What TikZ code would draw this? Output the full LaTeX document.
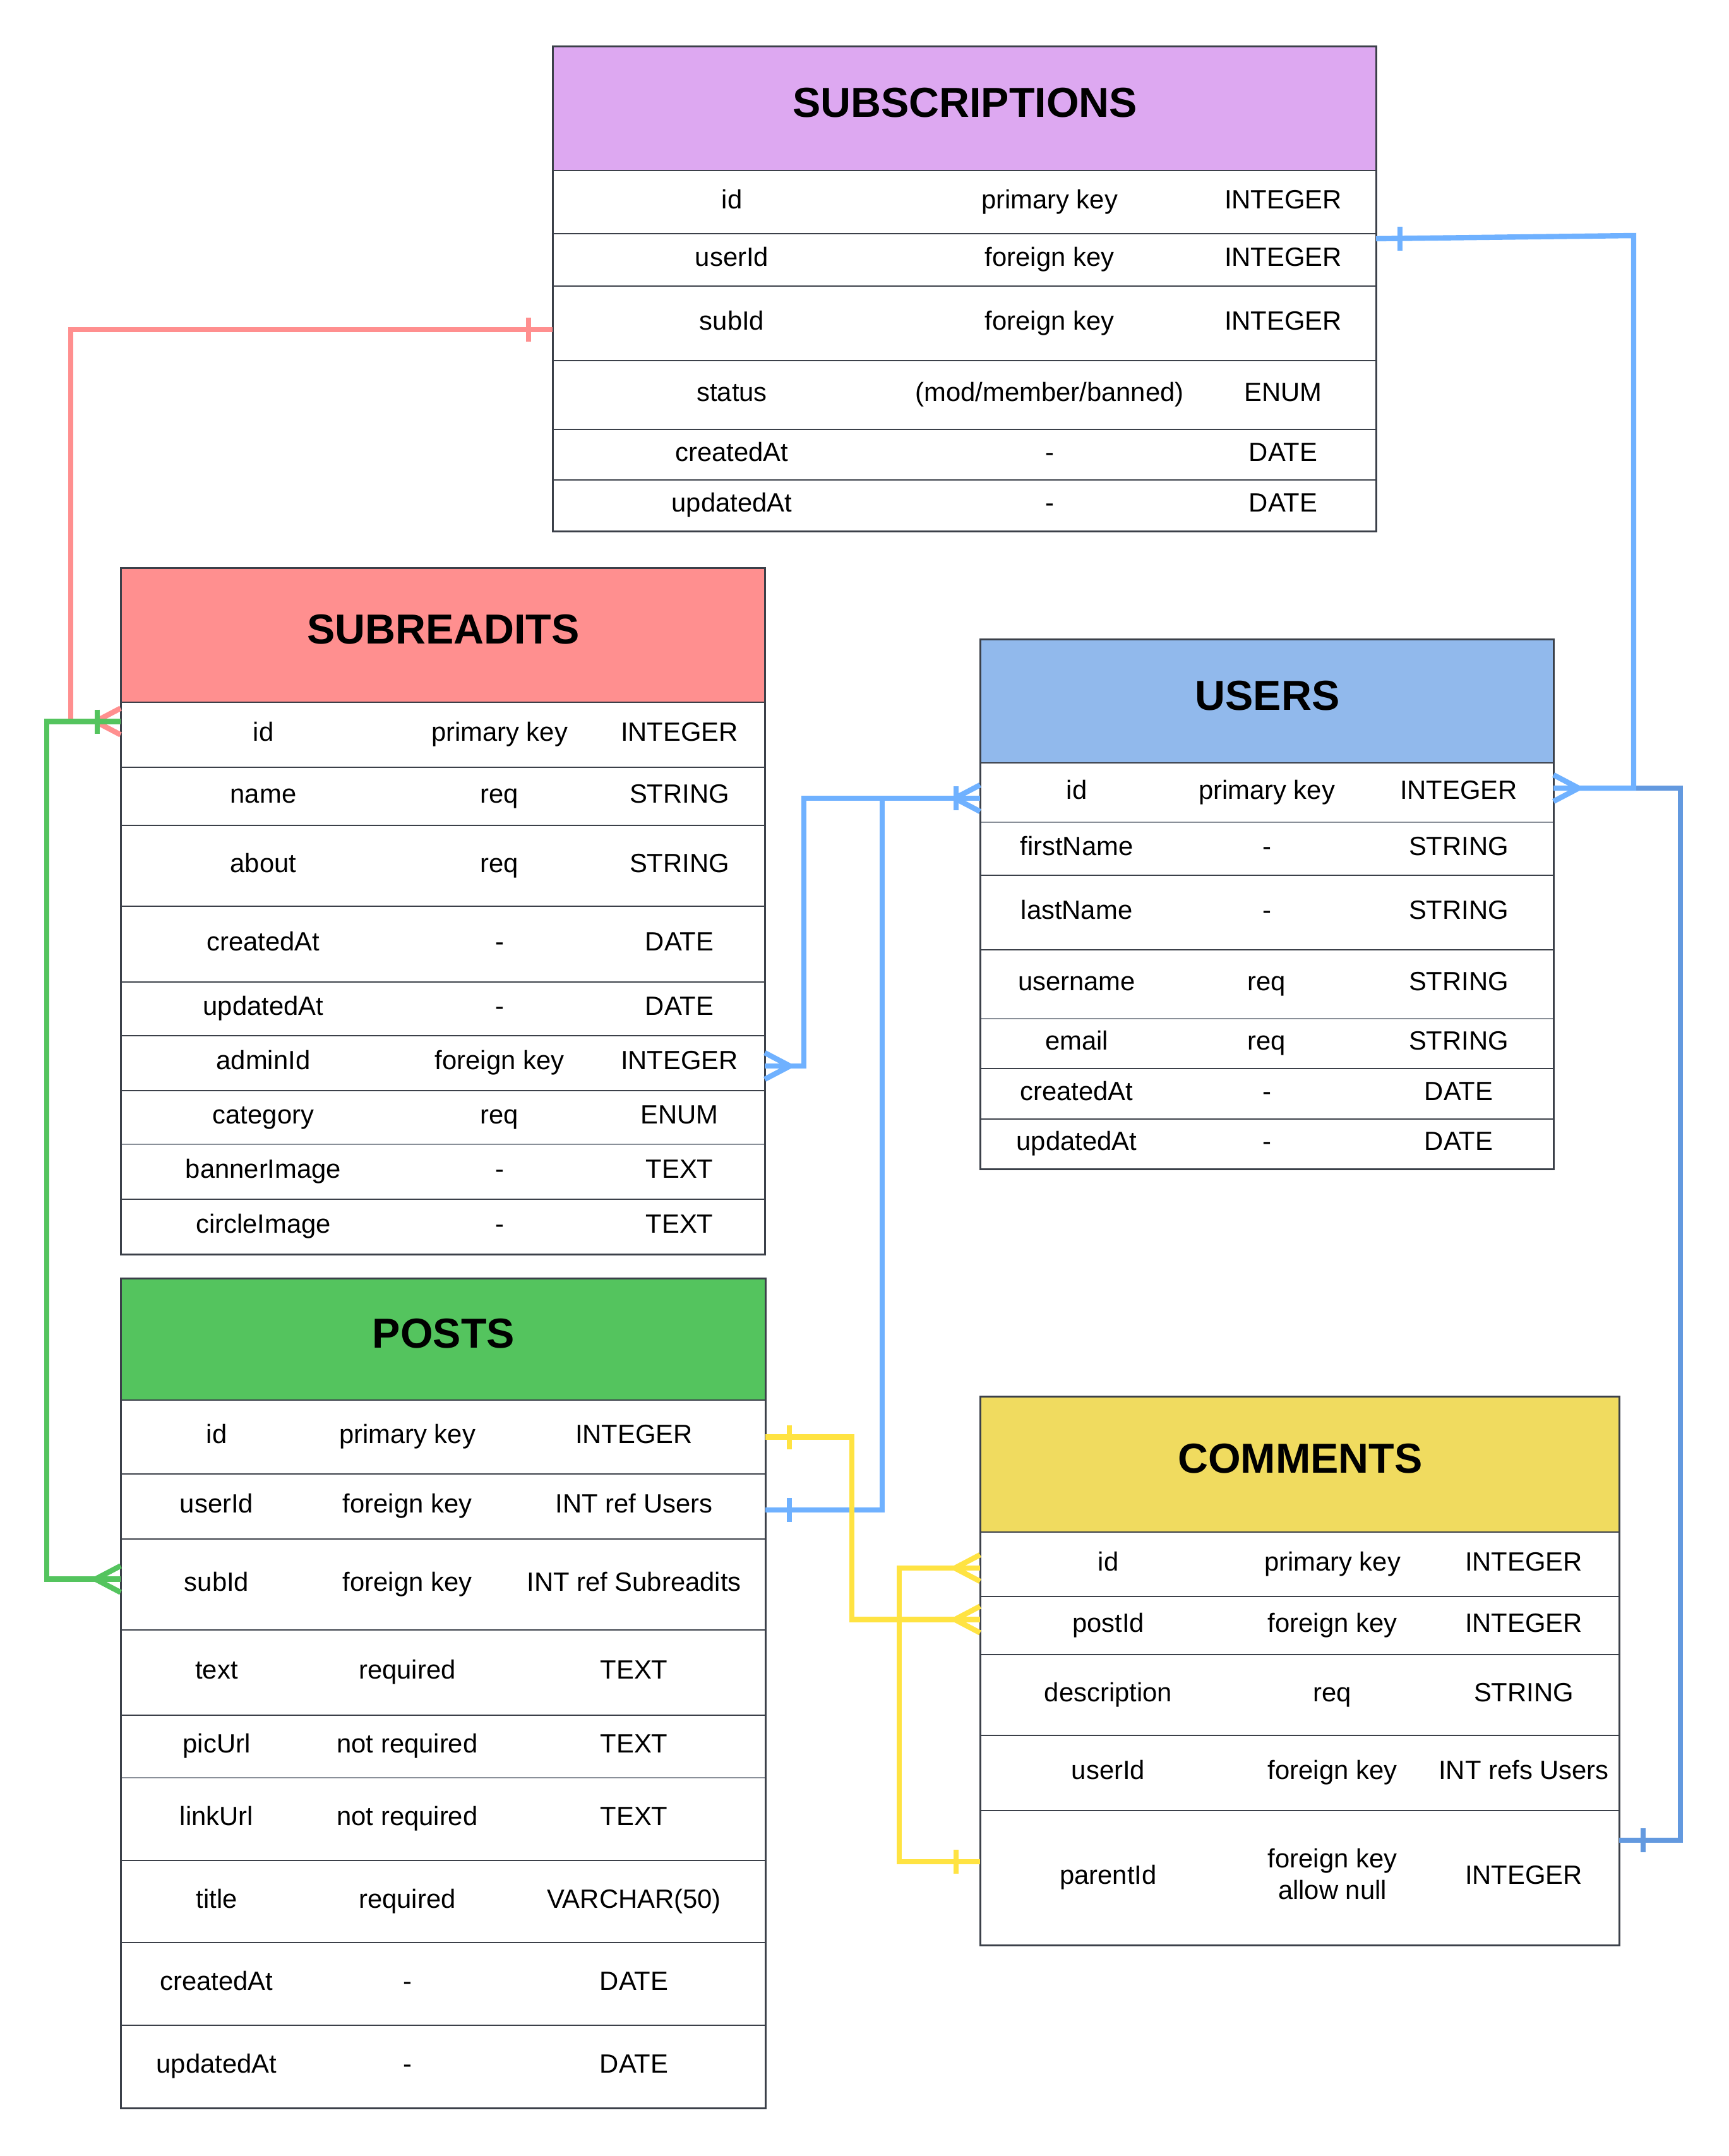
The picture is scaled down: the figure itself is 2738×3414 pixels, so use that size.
\documentclass[tikz,border=0pt]{standalone}
\usepackage{fontspec}
\setmainfont{Liberation Sans}
\usetikzlibrary{calc}

\definecolor{hdpurple}{HTML}{DDA8F1}
\definecolor{hdpink}{HTML}{FF8F8F}
\definecolor{hdblue}{HTML}{91B9EC}
\definecolor{hdgreen}{HTML}{54C45E}
\definecolor{hdyellow}{HTML}{F0DB5F}
\definecolor{cpink}{HTML}{FF8F8F}
\definecolor{cgreen}{HTML}{54C45E}
\definecolor{cblue}{HTML}{6FB1FF}
\definecolor{cdblue}{HTML}{6399DF}
\definecolor{cyellow}{HTML}{FFE342}
\definecolor{bordc}{HTML}{3B4049}
\definecolor{lightdiv}{HTML}{8A9099}

\tikzset{
  div/.style={draw=bordc, line width=0.7pt},
  ldiv/.style={draw=lightdiv, line width=0.3pt},
  outline/.style={draw=bordc, line width=0.75pt},
  rowbox/.style={rectangle, inner sep=0pt, outer sep=0pt},
  headbox/.style={rectangle, inner sep=0pt, outer sep=0pt},
  cell/.style={inner sep=0pt, anchor=base, align=center, font=\fontsize{10.45}{12.5}\selectfont},
  ttl/.style={inner sep=0pt, anchor=base, font=\bfseries\fontsize{16.6}{19}\selectfont},
  conn/.style={line width=2.1pt, line join=miter},
  crow/.pic={\draw[conn,#1] (-40,0) -- (0,21) (-40,0) -- (0,-21);},
  bar/.pic={\draw[conn,#1] (-38,-19) -- (-38,19);},
}

\newcommand\tsetup[6]{\def\tTN{#1}\def\tXL{#2}\def\tXR{#3}\def\tCA{#4}\def\tCB{#5}\def\tCC{#6}}
\newcommand\thead[5]{%
  \node[headbox, fill=#4, minimum width={(\tXR-\tXL)*0.25pt}, minimum height={(#3-#2)*0.25pt}] (\tTN-#1) at ({(\tXL+\tXR)/2},{(#2+#3)/2}) {};
  \node[ttl] (\tTN-#1-t) at ({(\tXL+\tXR)/2+1},{(#2+#3)/2+14}) {#5};
}
\newcommand\trow[7][div]{%
  \draw[#1] (\tXL,#3) -- (\tXR,#3);
  \node[rowbox, minimum width={(\tXR-\tXL)*0.25pt}, minimum height={(#4-#3)*0.25pt}] (\tTN-#2) at ({(\tXL+\tXR)/2},{(#3+#4)/2}) {};
  \node[cell] (\tTN-#2-a) at ({\tCA+1},{(#3+#4)/2+10}) {#5};
  \node[cell] (\tTN-#2-b) at ({\tCB+1},{(#3+#4)/2+10}) {#6};
  \node[cell] (\tTN-#2-c) at ({\tCC+1},{(#3+#4)/2+10}) {#7};
}

\begin{document}
\begin{tikzpicture}[x=0.25pt, y=-0.25pt]
\useasboundingbox (0,0) rectangle (2738,3414);
\fill[white] (0,0) rectangle (2738,3414);

% SUBSCRIPTIONS
\tsetup{subs}{875}{2179}{1158}{1661}{2031}
\thead{head}{74}{270}{hdpurple}{SUBSCRIPTIONS}
\trow{id}{270}{370}{id}{primary key}{INTEGER}
\trow{userId}{370}{453}{userId}{foreign key}{INTEGER}
\trow{subId}{453}{571}{subId}{foreign key}{INTEGER}
\trow{status}{571}{680}{status}{(mod/member/banned)}{ENUM}
\trow{createdAt}{680}{760}{createdAt}{-}{DATE}
\trow{updatedAt}{760}{841}{updatedAt}{-}{DATE}
\draw[outline] (\tXL,74) rectangle (\tXR,841);

% SUBREADITS
\tsetup{subr}{191}{1211}{416}{790}{1075}
\thead{head}{899}{1112}{hdpink}{SUBREADITS}
\trow{id}{1112}{1215}{id}{primary key}{INTEGER}
\trow{name}{1215}{1307}{name}{req}{STRING}
\trow{about}{1307}{1435}{about}{req}{STRING}
\trow{createdAt}{1435}{1555}{createdAt}{-}{DATE}
\trow{updatedAt}{1555}{1640}{updatedAt}{-}{DATE}
\trow{adminId}{1640}{1727}{adminId}{foreign key}{INTEGER}
\trow{category}{1727}{1812}{category}{req}{ENUM}
\trow[ldiv]{bannerImage}{1812}{1899}{bannerImage}{-}{TEXT}
\trow{circleImage}{1899}{1986}{circleImage}{-}{TEXT}
\draw[outline] (\tXL,899) rectangle (\tXR,1986);

% USERS
\tsetup{users}{1552}{2460}{1704}{2005}{2309}
\thead{head}{1012}{1208}{hdblue}{USERS}
\trow{id}{1208}{1302}{id}{primary key}{INTEGER}
\trow[ldiv]{firstName}{1302}{1386}{firstName}{-}{STRING}
\trow{lastName}{1386}{1504}{lastName}{-}{STRING}
\trow{username}{1504}{1613}{username}{req}{STRING}
\trow[ldiv]{email}{1613}{1692}{email}{req}{STRING}
\trow{createdAt}{1692}{1772}{createdAt}{-}{DATE}
\trow{updatedAt}{1772}{1851}{updatedAt}{-}{DATE}
\draw[outline] (\tXL,1012) rectangle (\tXR,1851);

% POSTS
\tsetup{posts}{191}{1212}{342}{644}{1003}
\thead{head}{2024}{2217}{hdgreen}{POSTS}
\trow{id}{2217}{2334}{id}{primary key}{INTEGER}
\trow{userId}{2334}{2437}{userId}{foreign key}{INT ref Users}
\trow{subId}{2437}{2581}{subId}{foreign key}{INT ref Subreadits}
\trow{text}{2581}{2716}{text}{required}{TEXT}
\trow{picUrl}{2716}{2815}{picUrl}{not required}{TEXT}
\trow[ldiv]{linkUrl}{2815}{2946}{linkUrl}{not required}{TEXT}
\trow{title}{2946}{3076}{title}{required}{VARCHAR(50)}
\trow{createdAt}{3076}{3207}{createdAt}{-}{DATE}
\trow{updatedAt}{3207}{3338}{updatedAt}{-}{DATE}
\draw[outline] (\tXL,2024) rectangle (\tXR,3338);

% COMMENTS
\tsetup{com}{1552}{2564}{1754}{2109}{2412}
\thead{head}{2211}{2426}{hdyellow}{COMMENTS}
\trow{id}{2426}{2528}{id}{primary key}{INTEGER}
\trow{postId}{2528}{2620}{postId}{foreign key}{INTEGER}
\trow{description}{2620}{2748}{description}{req}{STRING}
\trow{userId}{2748}{2867}{userId}{foreign key}{INT refs Users}
\draw[div] (\tXL,2867) -- (\tXR,2867);
\node[rowbox, minimum width={(2564-1552)*0.25pt}, minimum height={(3080-2867)*0.25pt}] (com-parentId) at (2058,2973.5) {};
\node[cell] (com-parentId-a) at (\tCA+1,2983.5) {parentId};
\node[cell, anchor=center] (com-parentId-b) at (\tCB+1,2968) {foreign key\\allow null};
\node[cell] (com-parentId-c) at (\tCC+1,2983.5) {INTEGER};
\draw[outline] (\tXL,2211) rectangle (\tXR,3080);

% ---------- connectors ----------
\coordinate (pkA) at ($(subs-subId.west)+(0,10)$);
\coordinate (pkB) at ($(subr-id.west)+(0,-21)$);
\coordinate (gnB) at ($(posts-subId.west)+(0,-8.5)$);
\coordinate (blA) at ($(subr-adminId.east)+(0,4.5)$);
\coordinate (blB) at ($(users-id.west)+(0,9)$);
\coordinate (blC) at ($(posts-userId.east)+(0,5.5)$);
\coordinate (blD) at ($(subs-userId.east)+(0,-33.5)$);
\coordinate (blE) at ($(users-id.east)+(0,-7)$);
\coordinate (dbB) at ($(com-parentId.east)+(0,-59.5)$);
\coordinate (ylA) at (posts-id.east);
\coordinate (ylB) at ($(com-postId.west)+(0,-9.5)$);
\coordinate (ylC) at ($(com-id.west)+(0,6)$);
\coordinate (ylD) at ($(com-parentId.west)+(0,-25.5)$);

% pink: subscriptions.subId -- subreadits.id
\draw[conn, cpink] (pkA) -- ++(-763,0) |- (pkB);
\pic at (pkA) {bar=cpink};
\pic at (pkB) {crow=cpink};

% green: subreadits.id -- posts.subId
\draw[conn, cgreen] (pkB) -- ++(-117,0) |- (gnB);
\pic[xscale=0.97] at (pkB) {bar=cgreen};
\pic at (gnB) {crow=cgreen};

% dark blue: users.id -- comments.parentId
\draw[conn, cdblue] (blE) -- ++(201,0) |- (dbB);
\pic[xscale=-1] at (dbB) {bar=cdblue};

% light blue: subreadits.adminId -- users.id
\draw[conn, cblue] (blA) -- ++(62,0) |- (blB);
\pic[xscale=-1] at (blA) {crow=cblue};
% light blue: posts.userId -- users.id
\draw[conn, cblue] (blC) -- ++(185,0) |- (blB);
\pic[xscale=-1] at (blC) {bar=cblue};
\pic at (blB) {crow=cblue};
\pic at (blB) {bar=cblue};
% light blue: subscriptions.userId -- users.id
\draw[conn, cblue] (blD) -- ++(408,-5) |- (blE);
\pic[xscale=-1] at (blD) {bar=cblue};
\pic[xscale=-1] at (blE) {crow=cblue};

% yellow: posts.id -- comments.postId
\draw[conn, cyellow] (ylA) -- ++(137,0) |- (ylB);
\pic[xscale=-1] at (ylA) {bar=cyellow};
\pic at (ylB) {crow=cyellow};
% yellow: comments.id -- comments.parentId
\draw[conn, cyellow] (ylC) -- ++(-128,0) |- (ylD);
\pic at (ylC) {crow=cyellow};
\pic at (ylD) {bar=cyellow};
\end{tikzpicture}
\end{document}
